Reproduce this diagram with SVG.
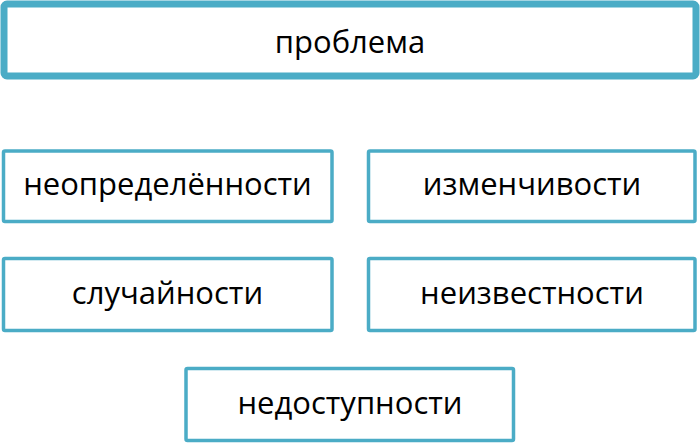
<svg xmlns="http://www.w3.org/2000/svg" width="700" height="443" viewBox="0 0 700 443">
<style>
.box{fill:#ffffff;stroke:#4BACC6;stroke-width:3.5}
.top{fill:#ffffff;stroke:#4BACC6;stroke-width:7}
.t{font-family:"Open Sans","Noto Sans","DejaVu Sans",sans-serif;font-size:31px;fill:#000000;text-anchor:middle}
</style>
<rect width="700" height="443" fill="#ffffff"/>
<g id="problem">
<rect class="top" x="4" y="4" width="692" height="72" rx="3"/>
<text class="t" x="350" y="53">проблема</text>
</g>
<g id="uncertainty">
<rect class="box" x="3.5" y="151" width="328.5" height="70.5" rx="1.5"/>
<text class="t" x="167.5" y="195">неопределённости</text>
</g>
<g id="variability">
<rect class="box" x="368.5" y="151" width="326.5" height="70.5" rx="1.5"/>
<text class="t" x="532" y="195">изменчивости</text>
</g>
<g id="randomness">
<rect class="box" x="3.5" y="258.5" width="328.5" height="72" rx="1.5"/>
<text class="t" x="167.5" y="304">случайности</text>
</g>
<g id="unknown">
<rect class="box" x="368.5" y="258.5" width="326.5" height="72" rx="1.5"/>
<text class="t" x="532" y="304">неизвестности</text>
</g>
<g id="inaccessibility">
<rect class="box" x="186" y="368.5" width="327.5" height="72" rx="1.5"/>
<text class="t" x="350" y="414">недоступности</text>
</g>
<g id="connectors"/>
</svg>
